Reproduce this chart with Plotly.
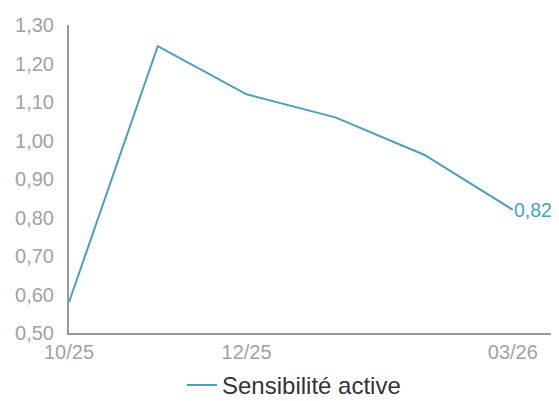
import plotly.graph_objects as go

months = ["10/25", "11/25", "12/25", "01/26", "02/26", "03/26"]
values = [0.58, 1.245, 1.12, 1.06, 0.963, 0.82]
tick_idx = [0, 2, 5]
y_ticks = [0.5, 0.6, 0.7, 0.8, 0.9, 1.0, 1.1, 1.2, 1.3]
y_ticktext = ["0,50", "0,60", "0,70", "0,80", "0,90", "1,00", "1,10", "1,20", "1,30"]
series_name = "Sensibilité active"
last_label = "0,82"

color = "#4aa0bd"
font_family = "Liberation Sans, Arial, sans-serif"
x = list(range(len(months)))

fig = go.Figure()
fig.add_trace(go.Scatter(
    x=x, y=values, mode="lines", name=series_name,
    line=dict(color=color, width=2),
))
fig.add_annotation(
    x=x[-1], y=values[-1], text=last_label, showarrow=False,
    xanchor="left", yanchor="middle", xshift=-1, yshift=0,
    font=dict(color=color, size=19.5, family=font_family),
)
# page body has an 8px default margin: compensate in figure size/margins
fig.update_layout(
    width=551, height=393,
    margin=dict(l=61, r=0, t=17, b=68, autoexpand=False),
    paper_bgcolor="white", plot_bgcolor="white",
    font=dict(family=font_family, size=20, color="#9ea2a6"),
    showlegend=True,
    legend=dict(orientation="h", x=(182 - 69) / 490, xanchor="left",
                y=-0.17, yanchor="middle", tracegroupgap=0,
                font=dict(color="#333333", size=24, family=font_family)),
)
fig.update_xaxes(
    range=[0, 5.52], tickmode="array", tickvals=[x[i] for i in tick_idx],
    ticktext=[months[i] for i in tick_idx], showgrid=False, zeroline=False,
    showline=True, linecolor="#999999", linewidth=2, ticks="", automargin=False,
)
fig.update_yaxes(
    range=[0.5, 1.3], tickmode="array", tickvals=y_ticks, ticktext=y_ticktext,
    showgrid=False, zeroline=False, showline=True, linecolor="#999999", linewidth=2,
    ticks="", ticklabelstandoff=9, automargin=False,
)
fig.write_html("out.html")
